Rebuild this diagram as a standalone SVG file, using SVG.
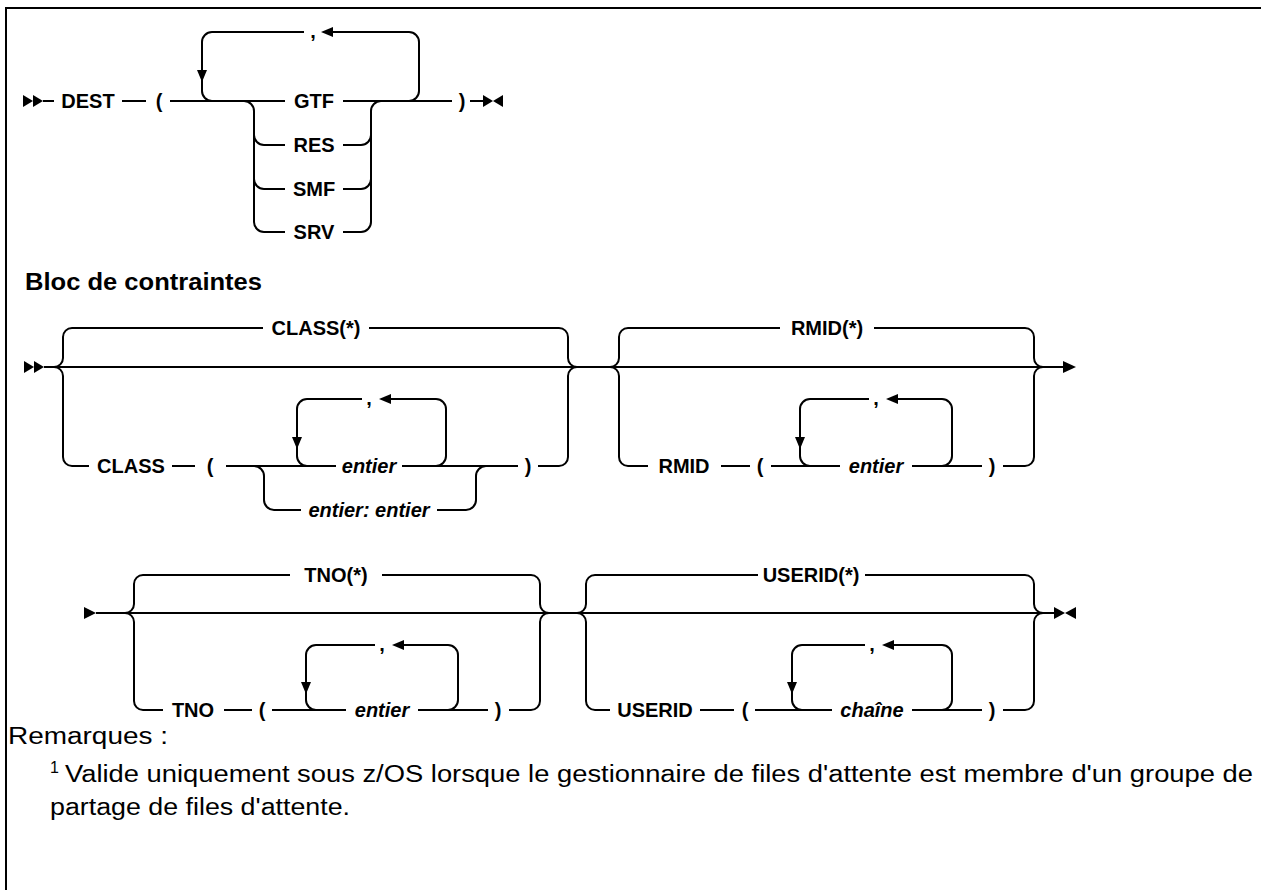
<svg xmlns="http://www.w3.org/2000/svg" width="1261" height="890" viewBox="0 0 1261 890">
<style>
.ln{fill:none;stroke:#000;stroke-width:2}
.ar{fill:#000;stroke:none}
.t{font-family:"Liberation Sans",Arial,sans-serif;font-size:20px;font-weight:bold;fill:#000;text-anchor:middle}
.it{font-style:italic}
.h{font-family:"Liberation Sans",Arial,sans-serif;font-size:23px;font-weight:bold;fill:#000}
.b{font-family:"Liberation Sans",Arial,sans-serif;font-size:23px;fill:#000}
.sup{font-family:"Liberation Sans",Arial,sans-serif;font-size:16px;fill:#000}
</style>
<rect width="1261" height="890" fill="#fff"/>
<path class="ln" d="M6 890V8H1261"/>

<g id="connectors">
<polygon class="ar" points="23,95 33,101 23,107"/><polygon class="ar" points="33,95 43,101 33,107"/>
<path class="ln" d="M43 101H54M122 101H146M170 101H285M343 101H452M470 101H483"/>
<path class="ln" d="M212 101A10 10 0 0 1 202 91V42A10 10 0 0 1 212 32H304M333 32H409A10 10 0 0 1 419 42V91A10 10 0 0 1 409 101"/>
<polygon class="ar" points="197,70 207,70 202,82"/>
<polygon class="ar" points="333,27 333,37 321,32"/>
<path class="ln" d="M244 101A10 10 0 0 1 254 111V222A10 10 0 0 0 264 232H285M254 135A10 10 0 0 0 264 145H285M254 179A10 10 0 0 0 264 189H285"/>
<path class="ln" d="M343 232H361A10 10 0 0 0 371 222V111A10 10 0 0 1 381 101M343 145H361A10 10 0 0 0 371 135M343 189H361A10 10 0 0 0 371 179"/>
<polygon class="ar" points="483,95 493,101 483,107"/><polygon class="ar" points="503,95 493,101 503,107"/>

<polygon class="ar" points="24,361 34,367 24,373"/><polygon class="ar" points="34,361 44,367 34,373"/>
<path class="ln" d="M44 367H1063"/>
<path class="ln" d="M54 367A9 9 0 0 0 63 358V337A9 9 0 0 1 72 328H263M369 328H559A9 9 0 0 1 568 337V358A9 9 0 0 0 577 367"/>
<path class="ln" d="M54 367A9 9 0 0 1 63 376V457A9 9 0 0 0 72 466H89M172 466H195M226 466H336M402 466H518M538 466H559A9 9 0 0 0 568 457V376A9 9 0 0 1 577 367"/>
<path class="ln" d="M254 466A10 10 0 0 1 264 476V500A10 10 0 0 0 274 510H301M437 510H466A10 10 0 0 0 476 500V476A10 10 0 0 1 486 466"/>
<path class="ln" d="M307 466A10 10 0 0 1 297 456V409A10 10 0 0 1 307 399H362M391 399H436A10 10 0 0 1 446 409V456A10 10 0 0 1 436 466"/>
<polygon class="ar" points="292,437 302,437 297,449"/>
<polygon class="ar" points="391,394 391,404 379,399"/>
<path class="ln" d="M610 367A9 9 0 0 0 619 358V337A9 9 0 0 1 628 328H780M874 328H1025A9 9 0 0 1 1034 337V358A9 9 0 0 0 1043 367"/>
<path class="ln" d="M610 367A9 9 0 0 1 619 376V457A9 9 0 0 0 628 466H648M721 466H750M771 466H840M912 466H982M1003 466H1025A9 9 0 0 0 1034 457V376A9 9 0 0 1 1043 367"/>
<path class="ln" d="M810 466A10 10 0 0 1 800 456V409A10 10 0 0 1 810 399H869M898 399H942A10 10 0 0 1 952 409V456A10 10 0 0 1 942 466"/>
<polygon class="ar" points="795,437 805,437 800,449"/>
<polygon class="ar" points="898,394 898,404 886,399"/>
<polygon class="ar" points="1063,361 1076,367 1063,373"/>

<polygon class="ar" points="84,607 96,613 84,619"/>
<path class="ln" d="M96 613H1054"/>
<path class="ln" d="M125 613A9 9 0 0 0 134 604V584A9 9 0 0 1 143 575H290M382 575H531A9 9 0 0 1 540 584V604A9 9 0 0 0 549 613"/>
<path class="ln" d="M125 613A9 9 0 0 1 134 622V701A9 9 0 0 0 143 710H163M224 710H252M272 710H346M418 710H488M509 710H531A9 9 0 0 0 540 701V622A9 9 0 0 1 549 613"/>
<path class="ln" d="M316 710A10 10 0 0 1 306 700V655A10 10 0 0 1 316 645H375M404 645H448A10 10 0 0 1 458 655V700A10 10 0 0 1 448 710"/>
<polygon class="ar" points="301,682 311,682 306,694"/>
<polygon class="ar" points="404,640 404,650 392,645"/>
<path class="ln" d="M577 613A9 9 0 0 0 586 604V584A9 9 0 0 1 595 575H758M865 575H1025A9 9 0 0 1 1034 584V604A9 9 0 0 0 1043 613"/>
<path class="ln" d="M577 613A9 9 0 0 1 586 622V701A9 9 0 0 0 595 710H610M700 710H734M755 710H832M912 710H982M1003 710H1025A9 9 0 0 0 1034 701V622A9 9 0 0 1 1043 613"/>
<path class="ln" d="M802 710A10 10 0 0 1 792 700V655A10 10 0 0 1 802 645H865M894 645H942A10 10 0 0 1 952 655V700A10 10 0 0 1 942 710"/>
<polygon class="ar" points="787,682 797,682 792,694"/>
<polygon class="ar" points="894,640 894,650 882,645"/>
<polygon class="ar" points="1054,607 1065,613 1054,619"/><polygon class="ar" points="1076,607 1065,613 1076,619"/>
</g>

<g id="n-dest"><text class="t" x="88" y="108">DEST</text></g>
<g id="n-lp0"><text class="t" x="159" y="108">(</text></g>
<g id="n-comma0"><text class="t" x="313" y="38">,</text></g>
<g id="n-gtf"><text class="t" x="314" y="108">GTF</text></g>
<g id="n-res"><text class="t" x="314" y="152">RES</text></g>
<g id="n-smf"><text class="t" x="314" y="196">SMF</text></g>
<g id="n-srv"><text class="t" x="314" y="239">SRV</text></g>
<g id="n-rp0"><text class="t" x="462" y="108">)</text></g>

<g id="heading"><text class="h" x="25" y="290" textLength="237" lengthAdjust="spacingAndGlyphs">Bloc de contraintes</text></g>

<g id="n-classstar"><text class="t" x="316" y="335">CLASS(*)</text></g>
<g id="n-class"><text class="t" x="131" y="473">CLASS</text></g>
<g id="n-lp1"><text class="t" x="210" y="473">(</text></g>
<g id="n-comma1"><text class="t" x="369" y="405">,</text></g>
<g id="n-entier1"><text class="t it" x="369" y="473">entier</text></g>
<g id="n-range"><text class="t it" x="369" y="517">entier: entier</text></g>
<g id="n-rp1"><text class="t" x="528" y="473">)</text></g>

<g id="n-rmidstar"><text class="t" x="827" y="335">RMID(*)</text></g>
<g id="n-rmid"><text class="t" x="684" y="473">RMID</text></g>
<g id="n-lp2"><text class="t" x="760" y="473">(</text></g>
<g id="n-comma2"><text class="t" x="876" y="405">,</text></g>
<g id="n-entier2"><text class="t it" x="876" y="473">entier</text></g>
<g id="n-rp2"><text class="t" x="992" y="473">)</text></g>

<g id="n-tnostar"><text class="t" x="336" y="582">TNO(*)</text></g>
<g id="n-tno"><text class="t" x="193" y="717">TNO</text></g>
<g id="n-lp3"><text class="t" x="262" y="717">(</text></g>
<g id="n-comma3"><text class="t" x="382" y="651">,</text></g>
<g id="n-entier3"><text class="t it" x="382" y="717">entier</text></g>
<g id="n-rp3"><text class="t" x="498" y="717">)</text></g>

<g id="n-useridstar"><text class="t" x="811" y="582">USERID(*)</text></g>
<g id="n-userid"><text class="t" x="655" y="717">USERID</text></g>
<g id="n-lp4"><text class="t" x="745" y="717">(</text></g>
<g id="n-comma4"><text class="t" x="872" y="651">,</text></g>
<g id="n-chaine"><text class="t it" x="872" y="717">chaîne</text></g>
<g id="n-rp4"><text class="t" x="992" y="717">)</text></g>

<g id="notes">
<text class="b" x="8" y="744" textLength="160" lengthAdjust="spacingAndGlyphs">Remarques :</text>
<text class="sup" x="50" y="773">1</text>
<text class="b" x="65" y="782" textLength="1188" lengthAdjust="spacingAndGlyphs">Valide uniquement sous z/OS lorsque le gestionnaire de files d'attente est membre d'un groupe de</text>
<text class="b" x="50" y="815" textLength="300" lengthAdjust="spacingAndGlyphs">partage de files d'attente.</text>
</g>
</svg>
